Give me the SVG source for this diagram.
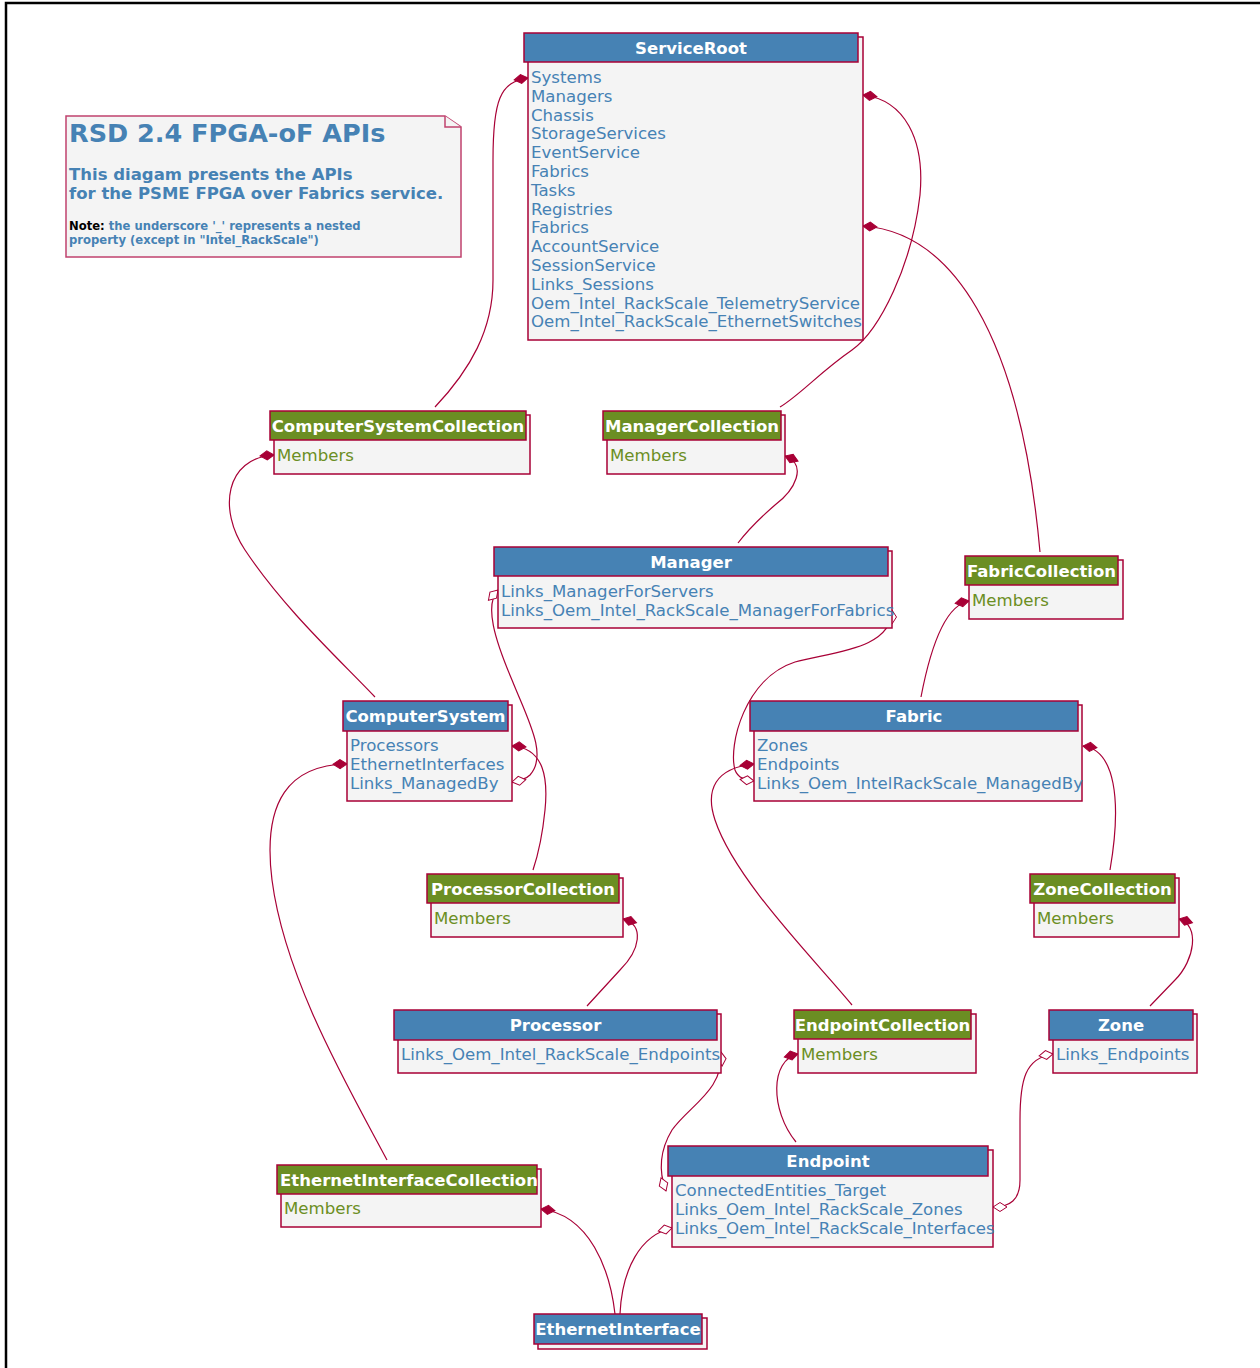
<svg xmlns="http://www.w3.org/2000/svg" width="1260" height="1368" viewBox="0 0 1260 1368">
<style>
.bg{fill:#ffffff}
.frame{fill:none;stroke:#000;stroke-width:2.5}
.body{fill:#F4F4F4;stroke:#A80036;stroke-width:1.5}
.hb{fill:#4682B4;stroke:#A80036;stroke-width:1.5}
.hg{fill:#6B8E23;stroke:#A80036;stroke-width:1.5}
.ht{font-family:"DejaVu Sans",sans-serif;font-size:16.5px;font-weight:bold;fill:#ffffff;text-anchor:middle}
.ft{font-family:"DejaVu Sans",sans-serif;font-size:16.6px;fill:#4682B4}
.gt{font-family:"DejaVu Sans",sans-serif;font-size:16.6px;fill:#6B8E23}
.note{fill:#F4F4F4;stroke:#C0426E;stroke-width:1.5}
.nt{font-family:"DejaVu Sans",sans-serif;font-weight:bold;fill:#4682B4}
.c{fill:none;stroke:#A80036;stroke-width:1.2}
</style>
<defs>
<marker id="fd" markerWidth="18" markerHeight="12" refX="0" refY="0" viewBox="-16 -6 18 12" orient="auto-start-reverse" markerUnits="userSpaceOnUse">
<path d="M0,0 L-7,-4.5 L-14,0 L-7,4.5 Z" fill="#A80036" stroke="#A80036" stroke-width="1"/>
</marker>
<marker id="hd" markerWidth="18" markerHeight="12" refX="0" refY="0" viewBox="-16 -6 18 12" orient="auto-start-reverse" markerUnits="userSpaceOnUse">
<path d="M0,0 L-7,-4.5 L-14,0 L-7,4.5 Z" fill="#ffffff" stroke="#A80036" stroke-width="1"/>
</marker>
</defs>
<rect class="bg" x="0" y="0" width="1260" height="1368"/>
<path class="frame" d="M6,1368 L6,3 L1260,3"/>

<g id="note">
<path class="note" d="M66,116 L445,116 L461,127 L461,257 L66,257 Z"/>
<path class="note" d="M445,116 L445,127 L461,127"/>
<text class="nt" x="69" y="142" font-size="25.5px">RSD 2.4 FPGA-oF APIs</text>
<text class="nt" x="69" y="180" font-size="16.5px">This diagam presents the APIs</text>
<text class="nt" x="69" y="199" font-size="16.5px">for the PSME FPGA over Fabrics service.</text>
<text class="nt" x="69" y="230" font-size="11.6px"><tspan fill="#000">Note:</tspan> the underscore '_' represents a nested</text>
<text class="nt" x="69" y="244" font-size="11.6px">property (except in "Intel_RackScale")</text>
</g>

<g id="connectors">
<path class="c" marker-start="url(#fd)" d="M528,78 C500,82 493,100 493,160 L493,280 C493,330 470,370 435,407"/>
<path class="c" marker-start="url(#fd)" d="M863,95 C905,100 925,140 920,195 C912,265 880,330 852,350 C820,372 800,395 780,407"/>
<path class="c" marker-start="url(#fd)" d="M863,226 C950,232 1020,330 1040,552"/>
<path class="c" marker-start="url(#fd)" d="M274,455 C225,458 218,510 245,550 C285,610 340,660 375,697"/>
<path class="c" marker-start="url(#fd)" d="M785,456 C808,465 795,490 775,505 C760,518 748,530 738,543"/>
<path class="c" marker-start="url(#hd)" marker-end="url(#hd)" d="M498,590 C484,605 495,640 512,680 C528,720 548,755 530,775 C526,779 518,781 512,782"/>
<path class="c" marker-start="url(#fd)" d="M512,746 C545,748 548,780 545,810 C542,840 538,855 533,870"/>
<path class="c" marker-start="url(#hd)" marker-end="url(#hd)" d="M892,610 C892,650 830,652 795,662 C745,678 728,745 735,770 C738,778 745,780 754,781"/>
<path class="c" marker-start="url(#fd)" d="M969,601 C945,605 930,650 921,697"/>
<path class="c" marker-start="url(#fd)" d="M347,764 C290,765 262,800 272,880 C285,980 350,1090 387,1160"/>
<path class="c" marker-start="url(#fd)" d="M754,764 C715,768 705,790 715,820 C735,880 815,960 852,1005"/>
<path class="c" marker-start="url(#fd)" d="M1083,746 C1115,750 1122,800 1110,870"/>
<path class="c" marker-start="url(#fd)" d="M623,919 C645,925 640,950 620,970 L587,1006"/>
<path class="c" marker-start="url(#fd)" d="M1179,919 C1200,925 1195,960 1175,980 L1150,1006"/>
<path class="c" marker-start="url(#hd)" marker-end="url(#hd)" d="M721,1052 C724,1090 690,1105 672,1130 C660,1150 658,1170 666,1191"/>
<path class="c" marker-start="url(#fd)" d="M798,1054 C770,1060 770,1110 796,1142"/>
<path class="c" marker-start="url(#hd)" marker-end="url(#hd)" d="M1053,1054 C1025,1058 1020,1080 1020,1120 L1020,1180 C1020,1200 1010,1207 993,1207"/>
<path class="c" marker-start="url(#fd)" d="M541,1209 C590,1215 610,1270 615,1314"/>
<path class="c" marker-start="url(#hd)" d="M672,1228 C640,1235 622,1270 620,1314"/>
</g>

<g id="ServiceRoot">
<rect class="body" x="528" y="37" width="335" height="303"/>
<rect class="hb" x="524" y="33" width="334" height="29"/>
<text class="ht" x="691" y="54">ServiceRoot</text>
<text class="ft" x="531" y="83">Systems</text>
<text class="ft" x="531" y="101.8">Managers</text>
<text class="ft" x="531" y="120.6">Chassis</text>
<text class="ft" x="531" y="139.4">StorageServices</text>
<text class="ft" x="531" y="158.2">EventService</text>
<text class="ft" x="531" y="177">Fabrics</text>
<text class="ft" x="531" y="195.8">Tasks</text>
<text class="ft" x="531" y="214.6">Registries</text>
<text class="ft" x="531" y="233.4">Fabrics</text>
<text class="ft" x="531" y="252.2">AccountService</text>
<text class="ft" x="531" y="271">SessionService</text>
<text class="ft" x="531" y="289.8">Links_Sessions</text>
<text class="ft" x="531" y="308.6">Oem_Intel_RackScale_TelemetryService</text>
<text class="ft" x="531" y="327.4">Oem_Intel_RackScale_EthernetSwitches</text>
</g>

<g id="ComputerSystemCollection">
<rect class="body" x="274" y="415" width="256" height="59"/>
<rect class="hg" x="270" y="411" width="256" height="29"/>
<text class="ht" x="398" y="432">ComputerSystemCollection</text>
<text class="gt" x="277" y="461">Members</text>
</g>

<g id="ManagerCollection">
<rect class="body" x="607" y="415" width="178" height="59"/>
<rect class="hg" x="603" y="411" width="178" height="29"/>
<text class="ht" x="692" y="432">ManagerCollection</text>
<text class="gt" x="610" y="461">Members</text>
</g>

<g id="Manager">
<rect class="body" x="498" y="551" width="394" height="77"/>
<rect class="hb" x="494" y="547" width="394" height="29"/>
<text class="ht" x="691" y="568">Manager</text>
<text class="ft" x="501" y="597">Links_ManagerForServers</text>
<text class="ft" x="501" y="615.8">Links_Oem_Intel_RackScale_ManagerForFabrics</text>
</g>

<g id="FabricCollection">
<rect class="body" x="969" y="560" width="154" height="59"/>
<rect class="hg" x="965" y="556" width="153" height="29"/>
<text class="ht" x="1041.5" y="577">FabricCollection</text>
<text class="gt" x="972" y="606">Members</text>
</g>

<g id="ComputerSystem">
<rect class="body" x="347" y="705" width="165" height="96"/>
<rect class="hb" x="343" y="701" width="165" height="30"/>
<text class="ht" x="425.5" y="722">ComputerSystem</text>
<text class="ft" x="350" y="751">Processors</text>
<text class="ft" x="350" y="769.8">EthernetInterfaces</text>
<text class="ft" x="350" y="788.6">Links_ManagedBy</text>
</g>

<g id="Fabric">
<rect class="body" x="754" y="705" width="328" height="96"/>
<rect class="hb" x="750" y="701" width="328" height="30"/>
<text class="ht" x="914" y="722">Fabric</text>
<text class="ft" x="757" y="751">Zones</text>
<text class="ft" x="757" y="769.8">Endpoints</text>
<text class="ft" x="757" y="788.6">Links_Oem_IntelRackScale_ManagedBy</text>
</g>

<g id="ProcessorCollection">
<rect class="body" x="431" y="878" width="192" height="59"/>
<rect class="hg" x="427" y="874" width="192" height="29"/>
<text class="ht" x="523" y="895">ProcessorCollection</text>
<text class="gt" x="434" y="924">Members</text>
</g>

<g id="ZoneCollection">
<rect class="body" x="1034" y="878" width="145" height="59"/>
<rect class="hg" x="1030" y="874" width="145" height="29"/>
<text class="ht" x="1102.5" y="895">ZoneCollection</text>
<text class="gt" x="1037" y="924">Members</text>
</g>

<g id="Processor">
<rect class="body" x="398" y="1014" width="323" height="59"/>
<rect class="hb" x="394" y="1010" width="323" height="30"/>
<text class="ht" x="555.5" y="1031">Processor</text>
<text class="ft" x="401" y="1060">Links_Oem_Intel_RackScale_Endpoints</text>
</g>

<g id="EndpointCollection">
<rect class="body" x="798" y="1014" width="178" height="59"/>
<rect class="hg" x="794" y="1010" width="177" height="29"/>
<text class="ht" x="882.5" y="1031">EndpointCollection</text>
<text class="gt" x="801" y="1060">Members</text>
</g>

<g id="Zone">
<rect class="body" x="1053" y="1014" width="144" height="59"/>
<rect class="hb" x="1049" y="1010" width="144" height="30"/>
<text class="ht" x="1121" y="1031">Zone</text>
<text class="ft" x="1056" y="1060">Links_Endpoints</text>
</g>

<g id="Endpoint">
<rect class="body" x="672" y="1150" width="321" height="97"/>
<rect class="hb" x="668" y="1146" width="320" height="30"/>
<text class="ht" x="828" y="1167">Endpoint</text>
<text class="ft" x="675" y="1196">ConnectedEntities_Target</text>
<text class="ft" x="675" y="1214.8">Links_Oem_Intel_RackScale_Zones</text>
<text class="ft" x="675" y="1233.6">Links_Oem_Intel_RackScale_Interfaces</text>
</g>

<g id="EthernetInterfaceCollection">
<rect class="body" x="281" y="1169" width="260" height="58"/>
<rect class="hg" x="277" y="1165" width="260" height="29"/>
<text class="ht" x="409" y="1186">EthernetInterfaceCollection</text>
<text class="gt" x="284" y="1214">Members</text>
</g>

<g id="EthernetInterface">
<rect class="body" x="538" y="1318" width="169" height="31"/>
<rect class="hb" x="534" y="1314" width="168" height="30"/>
<text class="ht" x="618" y="1335">EthernetInterface</text>
</g>
</svg>
